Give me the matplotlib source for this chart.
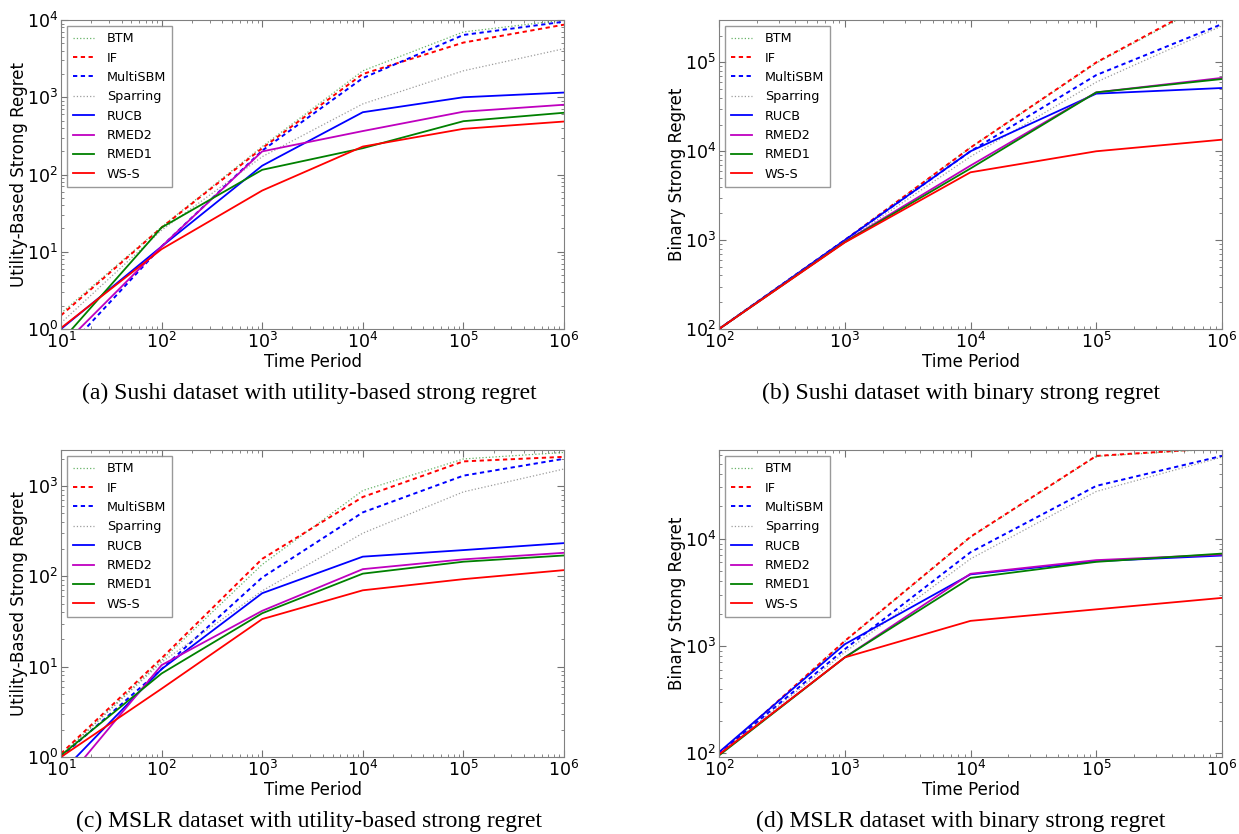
import matplotlib
matplotlib.use('Agg')
import matplotlib.pyplot as plt

# -- Data --------------------------------------------------------------------
methods = ['BTM', 'IF', 'MultiSBM', 'Sparring', 'RUCB', 'RMED2', 'RMED1', 'WS-S']

t_util = [1e1, 1e2, 1e3, 1e4, 1e5, 1e6]
t_bin = [1e2, 1e3, 1e4, 1e5, 1e6]

# (a) Sushi, utility-based strong regret
sushi_util = [
    [1.6, 21, 230, 2200, 7000, 10000],     # BTM
    [1.5, 20.6, 219, 2000, 5100, 8700],    # IF
    [0.46, 11.7, 204, 1770, 6400, 9500],   # MultiSBM
    [1.2, 19, 170, 820, 2200, 4250],       # Sparring
    [1.0, 11.7, 130, 640, 1000, 1150],     # RUCB
    [0.58, 11.7, 199, 365, 650, 800],      # RMED2
    [0.69, 20.6, 115, 219, 490, 630],      # RMED1
    [1.03, 10.8, 62, 230, 390, 485],       # WS-S
]

# (b) Sushi, binary strong regret
sushi_bin = [
    [100, 1000, 11000, 98000, 560000],
    [100, 1000, 11000, 100000, 580000],
    [100, 1000, 10000, 72000, 270000],
    [100, 960, 8700, 60000, 258000],
    [100, 1000, 10000, 44500, 51500],
    [100, 960, 6900, 46000, 67000],
    [100, 950, 6400, 46000, 65000],
    [100, 940, 5800, 10000, 13500],
]

# (c) MSLR, utility-based strong regret
mslr_util = [
    [1.04, 11.7, 135, 890, 1990, 2350],
    [1.09, 12.4, 156, 755, 1870, 2100],
    [1.0, 9.4, 97, 510, 1300, 2000],
    [1.04, 11.2, 69, 300, 860, 1540],
    [0.67, 9.4, 65, 165, 195, 233],
    [0.48, 10.4, 41.5, 120, 154, 182],
    [1.04, 8.4, 39, 107, 145, 170],
    [1.0, 5.7, 33.6, 70, 93, 117],
]

# (d) MSLR, binary strong regret
mslr_bin = [
    [97, 1100, 10300, 58500, 69000],
    [98, 1110, 10400, 59000, 70000],
    [99, 930, 7460, 31000, 59000],
    [97, 870, 6470, 27500, 57500],
    [102, 1035, 4640, 6150, 6950],
    [97, 780, 4700, 6300, 7100],
    [95, 780, 4300, 6070, 7250],
    [97, 780, 1710, 2190, 2800],
]

captions = ['(a) Sushi dataset with utility-based strong regret',
            '(b) Sushi dataset with binary strong regret',
            '(c) MSLR dataset with utility-based strong regret',
            '(d) MSLR dataset with binary strong regret']

styles = [
    dict(color='g', ls=':', lw=0.9, alpha=0.6),
    dict(color='r', ls='--', lw=1.4, dashes=(2.2, 1.8)),
    dict(color='b', ls='--', lw=1.4, dashes=(2.2, 1.8)),
    dict(color='0.45', ls=':', lw=0.9, alpha=0.7),
    dict(color='b', lw=1.3),
    dict(color='m', lw=1.3),
    dict(color='g', lw=1.3),
    dict(color='r', lw=1.3),
]

# -- Plot --------------------------------------------------------------------
W, H = 1239, 834
fig = plt.figure(figsize=(W / 100, H / 100), dpi=100, facecolor='white')


def px_axes(x0, y0, x1, y1):
    return fig.add_axes([x0 / W, 1 - y1 / H, (x1 - x0) / W, (y1 - y0) / H])


panels = [
    (px_axes(61, 20, 564, 329), t_util, sushi_util, (1, 1e4), 'Utility-Based Strong Regret'),
    (px_axes(719, 20, 1222, 329), t_bin, sushi_bin, (100, 3e5), 'Binary Strong Regret'),
    (px_axes(61, 450, 564, 757), t_util, mslr_util, (1, 2500), 'Utility-Based Strong Regret'),
    (px_axes(719, 450, 1222, 757), t_bin, mslr_bin, (92, 67000), 'Binary Strong Regret'),
]

for ax, t, rows, ylim, ylab in panels:
    for name, vals, st in zip(methods, rows, styles):
        ax.plot(t, vals, label=name, **st)
    ax.set_xscale('log')
    ax.set_yscale('log')
    ax.set_xlim(t[0], t[-1])
    ax.set_ylim(*ylim)
    ax.set_xlabel('Time Period', fontsize=12, labelpad=1)
    ax.set_ylabel(ylab, fontsize=12)
    ax.yaxis.set_label_coords(-0.066, 0.5)
    ax.tick_params(which='both', direction='in', top=True, right=True,
                   color='0.45', labelsize=12.5, pad=2)
    ax.tick_params(which='major', length=5)
    ax.tick_params(which='minor', length=2.5)
    for s in ax.spines.values():
        s.set_color('0.5')
    leg = ax.legend(loc='upper left', fontsize=9.2, labelspacing=0.5,
                    handlelength=1.64, handletextpad=1.0, borderpad=0.45,
                    borderaxespad=0.5, fancybox=False)
    leg.get_frame().set_edgecolor('0.5')

cap_pos = [(309, 393), (961, 393), (309, 821), (961, 821)]
for (cx, cy), cap in zip(cap_pos, captions):
    fig.text(cx / W, 1 - cy / H, cap, ha='center', va='center',
             family='Liberation Serif', fontsize=17)

plt.savefig('out.png', dpi=100, facecolor='white')
